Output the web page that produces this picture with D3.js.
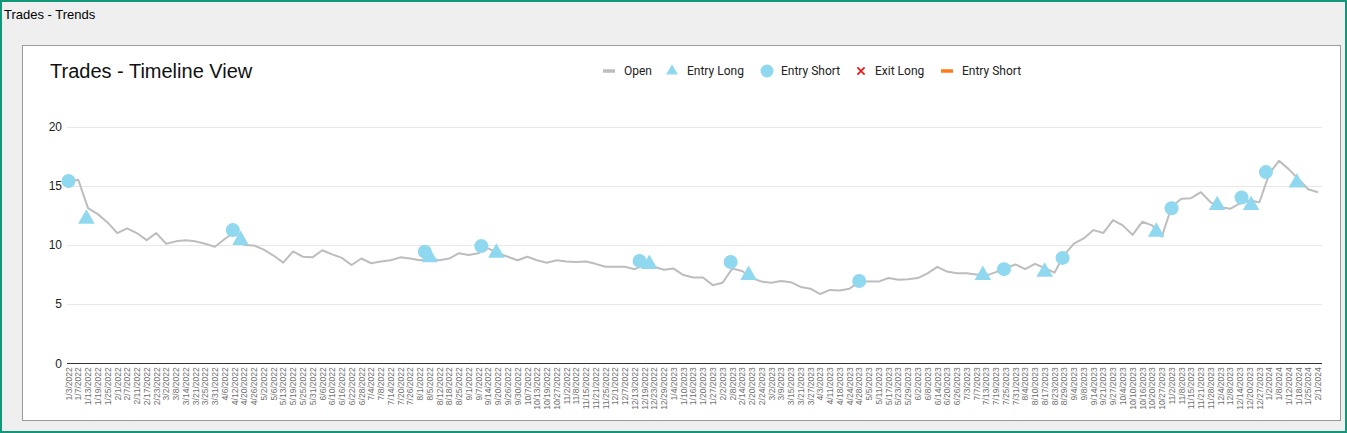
<!DOCTYPE html>
<html>
<head>
<meta charset="utf-8">
<script src="https://cdn.jsdelivr.net/npm/d3@7/dist/d3.min.js"></script>
<style>
  html, body { margin: 0; padding: 0; }
  body { width: 1347px; height: 433px; overflow: hidden; background: #ffffff; }
</style>
</head>
<body>
<svg id="chart" width="1347" height="433"></svg>
<script>
// ---------- DATA ----------
const tickLabels = [
  "1/3/2022","1/7/2022","1/13/2022","1/19/2022","1/25/2022","2/1/2022","2/7/2022","2/11/2022","2/17/2022","2/23/2022",
  "3/2/2022","3/8/2022","3/14/2022","3/21/2022","3/25/2022","3/31/2022","4/6/2022","4/12/2022","4/20/2022","4/26/2022",
  "5/2/2022","5/6/2022","5/13/2022","5/19/2022","5/25/2022","5/31/2022","6/6/2022","6/10/2022","6/16/2022","6/22/2022",
  "6/28/2022","7/4/2022","7/8/2022","7/14/2022","7/20/2022","7/26/2022","8/1/2022","8/5/2022","8/12/2022","8/18/2022",
  "8/25/2022","9/1/2022","9/7/2022","9/14/2022","9/20/2022","9/26/2022","9/30/2022","10/7/2022","10/13/2022","10/19/2022",
  "10/27/2022","11/2/2022","11/8/2022","11/15/2022","11/21/2022","11/25/2022","12/1/2022","12/7/2022","12/13/2022","12/19/2022",
  "12/23/2022","12/29/2022","1/4/2023","1/10/2023","1/16/2023","1/20/2023","1/27/2023","2/2/2023","2/8/2023","2/14/2023",
  "2/20/2023","2/24/2023","3/2/2023","3/9/2023","3/15/2023","3/21/2023","3/27/2023","4/3/2023","4/11/2023","4/18/2023",
  "4/24/2023","4/28/2023","5/5/2023","5/11/2023","5/17/2023","5/23/2023","5/29/2023","6/2/2023","6/8/2023","6/14/2023",
  "6/20/2023","6/26/2023","7/3/2023","7/7/2023","7/13/2023","7/19/2023","7/25/2023","7/31/2023","8/4/2023","8/10/2023",
  "8/17/2023","8/23/2023","8/29/2023","9/4/2023","9/8/2023","9/14/2023","9/21/2023","9/27/2023","10/4/2023","10/10/2023",
  "10/16/2023","10/20/2023","10/27/2023","11/2/2023","11/8/2023","11/15/2023","11/21/2023","11/28/2023","12/4/2023","12/8/2023",
  "12/14/2023","12/20/2023","12/27/2023","1/2/2024","1/8/2024","1/12/2024","1/18/2024","1/25/2024","2/1/2024"
];

// "Open" price at each labelled date
const openValues = [
  15.3,15.5,13.1,12.6,11.9,11.0,11.4,11.0,10.4,11.0,
  10.1,10.3,10.4,10.3,10.1,9.85,10.5,11.1,10.0,9.95,
  9.6,9.1,8.5,9.45,9.0,8.95,9.55,9.2,8.9,8.3,
  8.85,8.45,8.6,8.7,8.95,8.85,8.7,8.85,8.7,8.85,
  9.3,9.15,9.3,9.7,9.3,9.0,8.7,9.0,8.7,8.5,
  8.7,8.6,8.55,8.6,8.4,8.15,8.15,8.15,7.95,8.3,
  8.15,7.9,8.0,7.45,7.25,7.25,6.6,6.8,8.0,7.8,
  7.2,6.9,6.8,6.95,6.85,6.45,6.3,5.85,6.2,6.15,
  6.3,6.9,6.9,6.9,7.2,7.05,7.1,7.2,7.6,8.15,
  7.75,7.6,7.6,7.5,7.4,7.7,8.05,8.35,7.95,8.4,
  8.05,7.65,9.15,10.1,10.55,11.25,11.0,12.1,11.65,10.85,
  11.95,11.65,10.7,13.2,13.9,13.95,14.45,13.6,13.2,13.05,
  13.5,13.75,13.6,16.0,17.1,16.4,15.55,14.7,14.45
];

const entryLongDates  = ["1/12/2022","4/17/2022","8/5/2022","9/19/2022","12/21/2022","2/18/2023","7/11/2023","8/17/2023","10/23/2023","12/2/2023","12/21/2023","1/17/2024"];
const entryLongValues = [12.2,10.4,8.95,9.33,8.37,7.45,7.45,7.72,11.1,13.35,13.35,15.25];

const entryShortDates  = ["1/3/2022","4/11/2022","8/3/2022","9/9/2022","12/16/2022","2/7/2023","4/28/2023","7/24/2023","8/28/2023","11/2/2023","12/15/2023","12/31/2023"];
const entryShortValues = [15.4,11.25,9.43,9.9,8.65,8.55,6.95,7.95,8.9,13.1,14.0,16.15];

const yTicks = [0, 5, 10, 15, 20];

const legendItems = [
  {label: "Open",        type: "line",     color: "#bdbdbd"},
  {label: "Entry Long",  type: "triangle", color: "#8fd8f0"},
  {label: "Entry Short", type: "circle",   color: "#8fd8f0"},
  {label: "Exit Long",   type: "cross",    color: "#ee1111"},
  {label: "Entry Short", type: "line",     color: "#ff7a1a"}
];

// ---------- DRAW ----------
const svg = d3.select("#chart");
const W = 1347, H = 433;

// page frame
svg.append("rect").attr("x", 0).attr("y", 0).attr("width", W).attr("height", H).attr("fill", "#efefef");
svg.append("rect").attr("x", 1).attr("y", 1).attr("width", W - 2).attr("height", H - 2)
  .attr("fill", "none").attr("stroke", "#13977a").attr("stroke-width", 2);
svg.append("text").attr("x", 4).attr("y", 19).text("Trades - Trends")
  .attr("font-family", "Arial, 'Liberation Sans', sans-serif").attr("font-size", 13).attr("fill", "#000");

// white panel
svg.append("rect").attr("x", 22.5).attr("y", 45.5).attr("width", 1318).attr("height", 375)
  .attr("fill", "#ffffff").attr("stroke", "#9a9a9a").attr("stroke-width", 1);

// chart title
svg.append("text").attr("x", 50).attr("y", 78).text("Trades - Timeline View")
  .attr("font-family", "Arial, 'Liberation Sans', sans-serif").attr("font-size", 20).attr("fill", "#111");

// scales
const plotLeft = 67, plotRight = 1322, plotTop = 126.5, plotBottom = 363.3;
const firstX = 68.5, lastX = 1318;
const N = tickLabels.length;
const parse = d3.timeParse("%m/%d/%Y");
const labelDates = tickLabels.map(parse);
const dateToIdx = d3.scaleLinear().domain(labelDates).range(d3.range(N));
const x = d3.scaleLinear().domain([0, N - 1]).range([firstX, lastX]);
const y = d3.scaleLinear().domain([0, 20]).range([plotBottom, plotTop]);

// gridlines
svg.append("g").selectAll("line").data(yTicks.filter(d => d > 0)).join("line")
  .attr("x1", plotLeft).attr("x2", plotRight)
  .attr("y1", d => Math.round(y(d)) + 0.5).attr("y2", d => Math.round(y(d)) + 0.5)
  .attr("stroke", "#e8e8e8").attr("stroke-width", 1);

// y axis labels
const yAxis = d3.axisLeft(y).tickValues(yTicks).tickSize(0).tickPadding(0);
const gy = svg.append("g").attr("transform", `translate(62,0)`).call(yAxis);
gy.select(".domain").remove();
gy.selectAll("text").attr("font-family", "Arial, 'Liberation Sans', sans-serif")
  .attr("font-size", 12).attr("fill", "#222");

// x axis
const xAxis = d3.axisBottom(x).tickValues(d3.range(N)).tickFormat(i => tickLabels[i]).tickSize(0).tickPadding(0);
const gx = svg.append("g").attr("transform", `translate(0,${plotBottom})`).call(xAxis);
gx.select(".domain").remove();
gx.selectAll("text")
  .attr("font-family", "Arial, 'Liberation Sans', sans-serif").attr("font-size", 8.5).attr("fill", "#6e6e6e")
  .attr("transform", "rotate(-90)").attr("text-anchor", "end")
  .attr("x", -4).attr("y", 0).attr("dy", "0.32em");

svg.append("line").attr("x1", plotLeft).attr("x2", plotRight)
  .attr("y1", Math.round(plotBottom) + 0.5).attr("y2", Math.round(plotBottom) + 0.5)
  .attr("stroke", "#333").attr("stroke-width", 1.2);

// open line
const line = d3.line().x((d, i) => x(i)).y(d => y(d));
svg.append("path").datum(openValues).attr("d", line)
  .attr("fill", "none").attr("stroke", "#bdbdbd").attr("stroke-width", 2).attr("stroke-linejoin", "round");

// markers
const markerColor = "#8fd8f0";
const triSym = d3.symbol().type(d3.symbolTriangle).size(120);
svg.append("g").selectAll("path").data(entryLongDates.map((d, i) => ({d, v: entryLongValues[i]}))).join("path")
  .attr("d", triSym)
  .attr("transform", p => `translate(${x(dateToIdx(parse(p.d)))},${y(p.v)})`)
  .attr("fill", markerColor);

svg.append("g").selectAll("circle").data(entryShortDates.map((d, i) => ({d, v: entryShortValues[i]}))).join("circle")
  .attr("cx", p => x(dateToIdx(parse(p.d)))).attr("cy", p => y(p.v)).attr("r", 7)
  .attr("fill", markerColor);

// legend
const legendX = [603, 666, 760, 855, 941];
const lg = svg.append("g").attr("font-family", "Roboto, Arial, sans-serif").attr("font-size", 12).attr("fill", "#222");
legendItems.forEach((it, i) => {
  const g = lg.append("g").attr("transform", `translate(${legendX[i]},71)`);
  let textX;
  if (it.type === "line") {
    g.append("line").attr("x1", 0).attr("x2", 12).attr("y1", 0).attr("y2", 0)
      .attr("stroke", it.color).attr("stroke-width", 3.5);
    textX = 21;
  } else if (it.type === "triangle") {
    g.append("path").attr("d", d3.symbol().type(d3.symbolTriangle).size(60)).attr("transform", "translate(6,0)").attr("fill", it.color);
    textX = 21;
  } else if (it.type === "circle") {
    g.append("circle").attr("cx", 7).attr("cy", 0).attr("r", 6.5).attr("fill", it.color);
    textX = 21;
  } else {
    g.append("path").attr("d", d3.symbol().type(d3.symbolX).size(35)).attr("transform", "translate(6,0)")
      .attr("fill", "none").attr("stroke", it.color).attr("stroke-width", 1.6);
    textX = 20;
  }
  g.append("text").attr("x", textX).attr("y", 0).attr("dy", "0.35em").text(it.label);
});
</script>
</body>
</html>
